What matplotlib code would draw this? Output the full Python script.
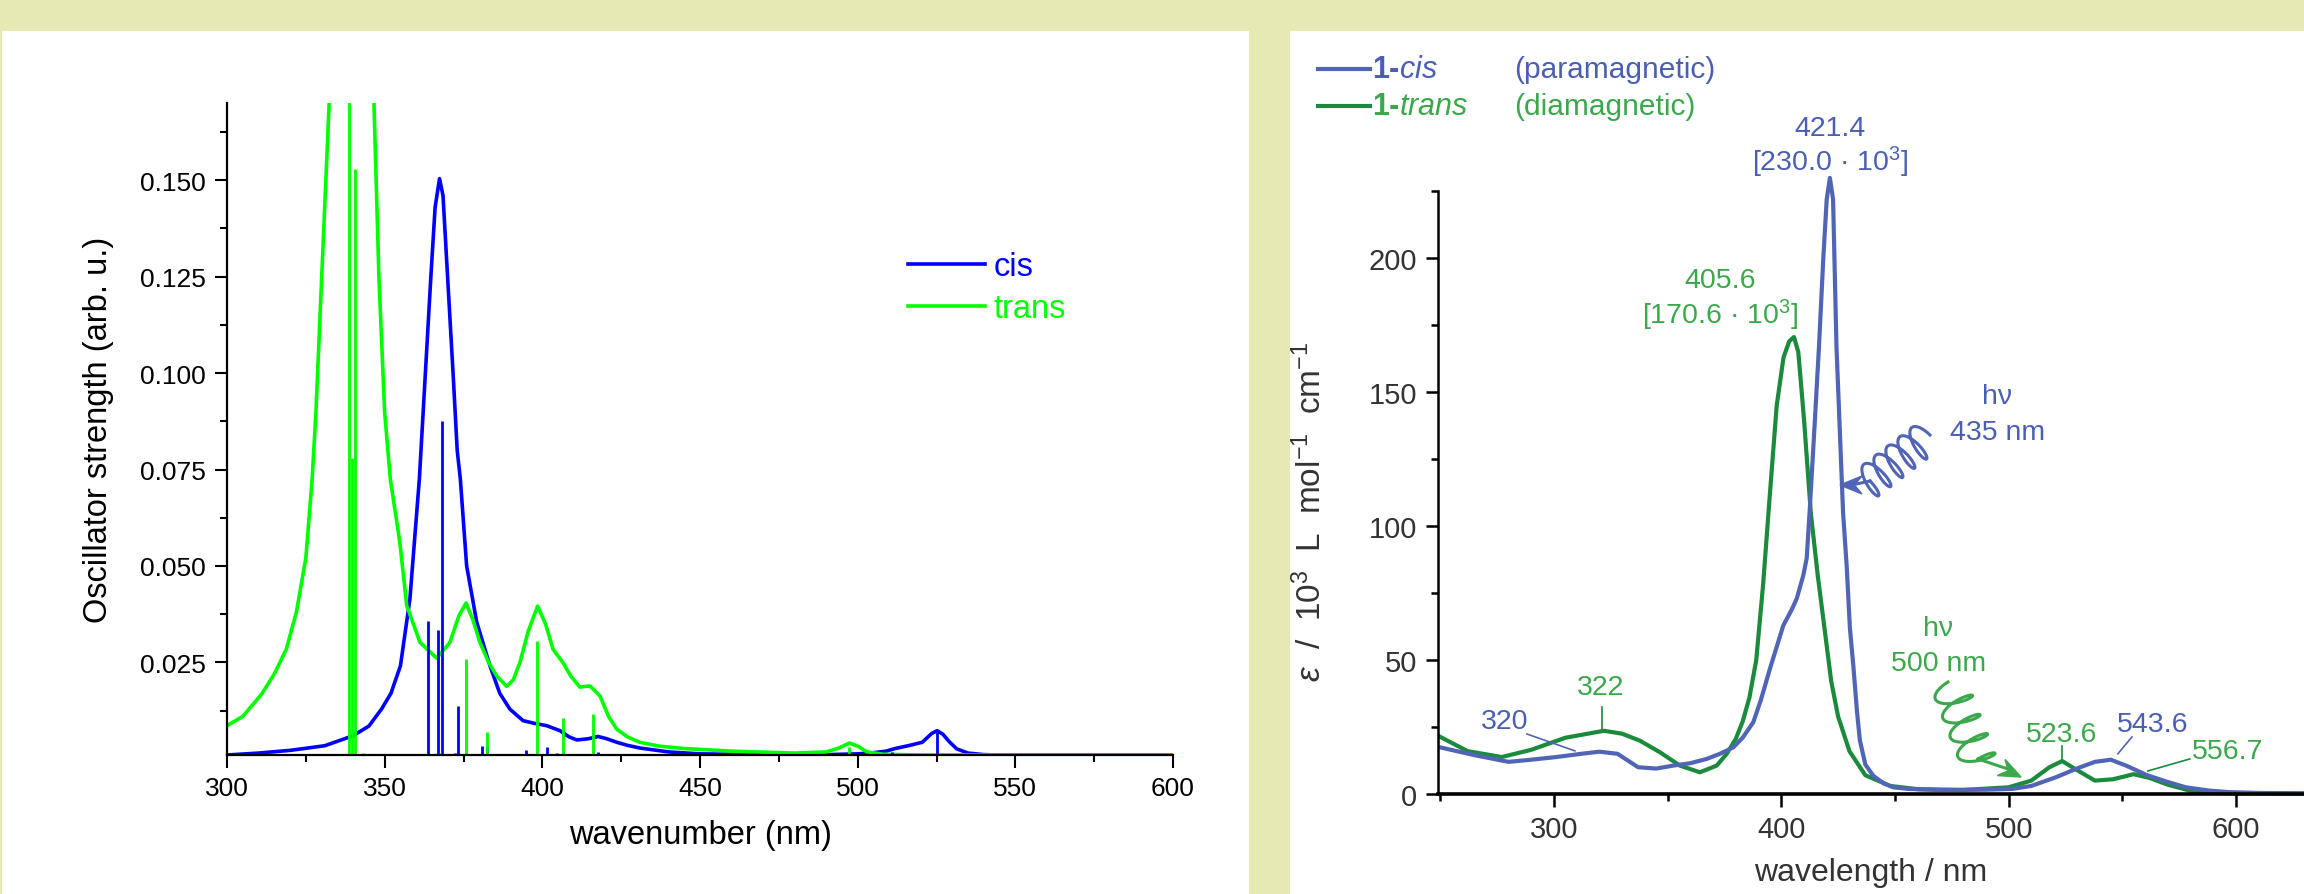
import matplotlib
matplotlib.use('Agg')
import matplotlib.pyplot as plt
import numpy as np
from matplotlib.lines import Line2D
from matplotlib.patches import Rectangle, Polygon
from matplotlib.ticker import MultipleLocator

plt.rcParams['font.family'] = ['Liberation Sans', 'DejaVu Sans']
plt.rcParams['mathtext.fontset'] = 'custom'
plt.rcParams['mathtext.rm'] = 'Liberation Sans'
plt.rcParams['mathtext.it'] = 'Liberation Sans:italic'
plt.rcParams['mathtext.bf'] = 'Liberation Sans:bold'

# ---------------- calculated spectrum (left) ----------------
calc_nm_cis = [300, 310, 320, 331, 340, 345, 349, 352, 355, 358, 361, 362.8, 364.6, 366, 367.4,
               368.5, 370, 371.8, 373, 374, 376, 379.2, 383.4, 386.5, 389.7, 393.9, 397.5, 401.4,
               405.6, 408.5, 410.9, 414.5, 417.7, 420.5, 423.6, 427, 431, 440, 450, 470, 490, 500,
               505, 509, 512, 516, 520.5, 523.5, 525.2, 527, 529, 531.4, 535, 540, 545, 600]
calc_cis = [0.0010, 0.0015, 0.0022, 0.0034, 0.0060, 0.0085, 0.0129, 0.0170, 0.0241, 0.0414, 0.0725,
            0.0984, 0.1243, 0.1430, 0.1504, 0.1460, 0.1243, 0.0984, 0.0800, 0.0725, 0.0500, 0.0354,
            0.0241, 0.0170, 0.0129, 0.0099, 0.0092, 0.0086, 0.0073, 0.0057, 0.0049, 0.0052, 0.0058,
            0.0052, 0.0043, 0.0035, 0.0028, 0.0018, 0.0013, 0.0011, 0.0011, 0.0013, 0.0016, 0.0020,
            0.0027, 0.0034, 0.0043, 0.0066, 0.0073, 0.0064, 0.0045, 0.0026, 0.0015, 0.0011, 0.0010,
            0.0010]

calc_nm_trans = [300, 305, 311, 315, 318.8, 322, 325, 327, 328.2, 330, 332.4, 334, 336, 340, 344,
                 346.6, 348.2, 350, 351.8, 354.8, 357, 361.2, 366.5, 370.7, 373.5, 375.8, 378, 380.2,
                 383, 385.5, 388.7, 390.8, 392.9, 395.5, 398.5, 401, 403.4, 406.5, 409, 411.9, 415.1,
                 418.3, 421, 423.6, 427, 430.9, 437, 444.6, 460, 480, 490, 494, 497.4, 500, 503, 508,
                 520, 600]
calc_trans = [0.0086, 0.0110, 0.0168, 0.0220, 0.0284, 0.0380, 0.0520, 0.0725, 0.0898, 0.1243, 0.1700,
              0.2100, 0.2600, 0.3000, 0.2600, 0.1700, 0.1243, 0.0898, 0.0725, 0.0562, 0.0397, 0.0302,
              0.0261, 0.0302, 0.0370, 0.0404, 0.0360, 0.0302, 0.0250, 0.0215, 0.0188, 0.0205, 0.0250,
              0.0330, 0.0396, 0.0350, 0.0284, 0.0250, 0.0215, 0.0186, 0.0189, 0.0163, 0.0110, 0.0077,
              0.0057, 0.0043, 0.0033, 0.0027, 0.0020, 0.0015, 0.0018, 0.0028, 0.0041, 0.0033, 0.0018,
              0.0012, 0.0010, 0.0010]

stick_nm_cis = [363.8, 366.8, 368.1, 372.3, 373.1, 381.0, 382.5, 394.8, 401.5, 404.8, 417.5, 427.7,
                511.0, 525.2]
stick_f_cis = [0.0358, 0.0334, 0.0876, 0.0015, 0.0136, 0.0034, 0.0034, 0.0022, 0.0030, 0.0014,
               0.0018, 0.0008, 0.0019, 0.0073]
stick_nm_trans = [338.8, 339.6, 340.5, 343.0, 367.4, 375.7, 382.3, 398.3, 406.6, 416.0, 497.4]
stick_f_trans = [0.300, 0.078, 0.153, 0.0015, 0.0015, 0.026, 0.007, 0.0306, 0.0105, 0.0116, 0.003]

# ---------------- experimental spectrum (right) ----------------
exp_nm_cis = [250, 265, 280, 290, 301, 312, 320, 328, 337, 345, 352.5, 360, 367.2, 373, 378.9, 383,
              387.7, 391, 395, 400.9, 404.7, 406.8, 409.7, 411.2, 412.6, 414.5, 416.6, 418.5, 420,
              421.4, 422.8, 424.3, 425.8, 427.2, 428.8, 430.2, 431.7, 433.3, 434.6, 437, 440.5, 445,
              449.3, 456, 470, 490, 501.6, 510, 521, 530, 538, 545, 552, 561, 570, 578, 588, 597, 610,
              630]
exp_cis = [17.4, 14.5, 12.0, 12.8, 13.8, 15.0, 15.8, 15.0, 10.0, 9.5, 10.6, 11.5, 13.1, 15.0, 17.4,
           21.0, 26.8, 35.0, 46.7, 62.9, 69.0, 72.9, 81.6, 88.0, 107, 135, 167, 200, 222, 230, 222,
           167, 135, 105, 85, 62, 48, 31, 20, 11, 6.8, 4.0, 2.5, 1.9, 1.5, 1.6, 1.9, 3.0, 6.3, 9.5,
           12.0, 12.8, 10.5, 7.0, 4.5, 2.5, 1.3, 0.7, 0.4, 0.3]

exp_nm_trans = [250, 262, 277, 290, 305, 322, 330, 337.8, 346.6, 355.4, 364.2, 371.6, 376, 380, 383,
                386, 389, 392, 395, 398, 401, 403.5, 405.6, 407.5, 410, 413, 416, 419, 422, 425, 430,
                437, 448, 460, 480, 500, 510, 518, 523.6, 530, 538, 546, 555, 562, 570, 580, 590, 610,
                630]
exp_trans = [21.3, 16.0, 13.8, 16.5, 21.0, 23.6, 22.5, 19.9, 15.6, 10.6, 8.1, 10.6, 15.0, 20.6, 27.0,
             36.0, 50.0, 78.0, 112, 145, 163, 169, 170.6, 165, 140, 105, 82, 62, 42, 29, 16, 7.0, 3.0,
             1.8, 1.5, 2.5, 5.0, 10.0, 12.3, 9.0, 5.0, 5.5, 7.4, 6.0, 3.5, 1.2, 0.4, 0.2, 0.1]

W, H = 2304, 895
fig = plt.figure(figsize=(W / 100, H / 100), dpi=100, facecolor='#e6e9b4')


def fx(x):
    return np.asarray(x) / W


def fy(y):
    return 1 - np.asarray(y) / H


# white panels, kept behind the axes
fig.patches.append(Rectangle((fx(2), 0), fx(1249) - fx(2), fy(32), transform=fig.transFigure,
                             facecolor='white', edgecolor='none', zorder=-10))
fig.patches.append(Rectangle((fx(1290), 0), 1 - fx(1290), fy(32), transform=fig.transFigure,
                             facecolor='white', edgecolor='none', zorder=-10))

# ================= left panel =================
blue, lime = '#0000ff', '#00ff00'
ax1 = fig.add_axes([fx(227), fy(756), fx(1173) - fx(227), fy(104) - fy(756)])
ax1.set_facecolor('none')
ax1.plot(calc_nm_cis, calc_cis, color=blue, lw=2.6, label='cis')
ax1.plot(calc_nm_trans, calc_trans, color=lime, lw=2.6, label='trans')
ax1.vlines(stick_nm_cis, 0, stick_f_cis, color=blue, lw=2.0)
ax1.vlines(stick_nm_trans, 0, stick_f_trans, color=lime, lw=2.0)
ax1.set_xlim(300, 600)
ax1.set_ylim(0.001, 0.17)
ax1.set_xticks(range(300, 601, 50))
ax1.xaxis.set_minor_locator(MultipleLocator(25))
ax1.set_yticks([0.025, 0.050, 0.075, 0.100, 0.125, 0.150])
ax1.set_yticklabels(['0.025', '0.050', '0.075', '0.100', '0.125', '0.150'])
ax1.yaxis.set_minor_locator(MultipleLocator(0.0125))
for s in ['top', 'right']:
    ax1.spines[s].set_visible(False)
for s in ['left', 'bottom']:
    ax1.spines[s].set_linewidth(1.6)
ax1.tick_params(which='major', direction='out', length=9, width=1.5, labelsize=19, pad=6)
ax1.tick_params(which='minor', direction='out', length=5, width=1.5)
ax1.set_xlabel('wavenumber (nm)', fontsize=23.5, labelpad=14)
ax1.set_ylabel('Oscillator strength (arb. u.)', fontsize=23.5, labelpad=19)
ax1.legend(loc='upper left', bbox_to_anchor=(fx(908), fy(252)), bbox_transform=fig.transFigure,
           frameon=False, fontsize=23.5, handlelength=2.36, handletextpad=0.25,
           labelspacing=0.35, borderpad=0, borderaxespad=0, labelcolor='linecolor')

# ================= right panel =================
bl_line, bl_text = '#5165b7', '#4a5fb3'
gr_line, gr_text = '#1b8a3c', '#3aa84b'
dark = '#333333'

ax2 = fig.add_axes([fx(1437.6), fy(795), 1 - fx(1437.6), fy(192.3) - fy(795)])
ax2.set_facecolor('none')
ax2.plot(exp_nm_trans, exp_trans, color=gr_line, lw=3, clip_on=False)
ax2.plot(exp_nm_cis, exp_cis, color=bl_line, lw=3, clip_on=False)
ax2.set_xlim(248.8, 630)
ax2.set_ylim(0, 225)
ax2.set_xticks([300, 400, 500, 600])
ax2.xaxis.set_minor_locator(MultipleLocator(50))
ax2.set_yticks([0, 50, 100, 150, 200])
ax2.yaxis.set_minor_locator(MultipleLocator(25))
for s in ['top', 'right']:
    ax2.spines[s].set_visible(False)
ax2.spines['left'].set_linewidth(1.8)
ax2.spines['bottom'].set_linewidth(2.6)
ax2.tick_params(which='major', direction='out', length=9, width=1.8, labelsize=21,
                labelcolor=dark, pad=6)
ax2.tick_params(which='minor', direction='out', length=5, width=1.8)
ax2.set_xlabel('wavelength / nm', fontsize=23, color=dark, labelpad=10)
ax2.set_ylabel(r'$\mathit{ε}$  /  10$^3$  L  mol$^{-1}$  cm$^{-1}$', fontsize=24, color=dark)
ax2.yaxis.set_label_coords(-(1437.6 - 1328) / (W - 1437.6), 0.47)

# legend of the published figure
for yy, col, tcol, name, note in [(70, bl_line, bl_text, '1-$\\mathit{cis}$', '(paramagnetic)'),
                                  (107, gr_line, gr_text, '1-$\\mathit{trans}$', '(diamagnetic)')]:
    fig.add_artist(Line2D([fx(1318), fx(1370)], [fy(yy), fy(yy)], color=col, lw=3,
                          transform=fig.transFigure))
    fig.text(fx(1372), fy(yy), name, color=tcol, fontsize=22, fontweight='bold', va='center')
    fig.text(fx(1514), fy(yy), note, color=tcol, fontsize=21.5, va='center')

# peak labels
ax2.text(421.4, 248.5, '421.4', color=bl_text, fontsize=20.5, ha='center', va='center')
ax2.text(421.4, 236, r'[230.0 · 10$^3$]', color=bl_text, fontsize=20.5, ha='center', va='center')
ax2.text(373, 192, '405.6', color=gr_text, fontsize=20.5, ha='center', va='center')
ax2.text(373, 179, r'[170.6 · 10$^3$]', color=gr_text, fontsize=20.5, ha='center', va='center')
ax2.text(495, 148.5, 'hν', color=bl_text, fontsize=20.5, ha='center', va='center')
ax2.text(495, 135, '435 nm', color=bl_text, fontsize=20.5, ha='center', va='center')
ax2.text(469, 62, 'hν', color=gr_text, fontsize=20.5, ha='center', va='center')
ax2.text(469, 49, '500 nm', color=gr_text, fontsize=20.5, ha='center', va='center')

ax2.text(278.4, 27.3, '320', color=bl_text, fontsize=20.5, ha='center', va='center')
ax2.plot([288.1, 309.2], [22.4, 16.1], color=bl_line, lw=1.2)
ax2.text(320.7, 40, '322', color=gr_text, fontsize=20.5, ha='center', va='center')
ax2.plot([321.1, 321.1], [32.5, 24.3], color=gr_line, lw=1.2)
ax2.text(523.5, 22.4, '523.6', color=gr_text, fontsize=20.5, ha='center', va='center')
ax2.plot([523.5, 523.5], [17.9, 12.3], color=gr_line, lw=1.2)
ax2.text(563.5, 26.2, '543.6', color=bl_text, fontsize=20.5, ha='center', va='center')
ax2.plot([554.3, 548.1], [21.3, 15.0], color=bl_line, lw=1.2)
ax2.text(596.5, 16.1, '556.7', color=gr_text, fontsize=20.5, ha='center', va='center')
ax2.plot([579.8, 561.3], [13.1, 8.6], color=gr_line, lw=1.2)


# photon squiggles (pixel geometry)
def squiggle(p0, p1, n, amp, wob):
    p0, p1 = np.array(p0, float), np.array(p1, float)
    d = p1 - p0
    L = np.hypot(*d)
    e = d / L
    nrm = np.array([-e[1], e[0]])
    t = np.linspace(0, 2 * np.pi * n, 800)
    a = L / (2 * np.pi * n)
    u = a * t + wob * np.sin(t)
    v = amp * np.sin(t)
    u = a * t - wob * np.cos(t) + wob
    pts = p0[None, :] + u[:, None] * e[None, :] + v[:, None] * nrm[None, :]
    return pts


def arrowhead(base, tip, length, hw, col):
    base, tip = np.array(base, float), np.array(tip, float)
    e = (tip - base) / np.hypot(*(tip - base))
    nrm = np.array([-e[1], e[0]])
    pts = [tip, tip - e * length + nrm * hw, tip - e * length * 0.65, tip - e * length - nrm * hw]
    pts = [(fx(p[0]), fy(p[1])) for p in pts]
    fig.patches.append(Polygon(pts, closed=True, transform=fig.transFigure, facecolor=col,
                               edgecolor=col, lw=1, zorder=5))


pts = squiggle((1930, 436), (1870, 482), 5, 17, 6)
tail = np.array([pts[-1], (1852, 486)])
fig.add_artist(Line2D(fx(pts[:, 0]), fy(pts[:, 1]), color=bl_line, lw=2.2, transform=fig.transFigure))
fig.add_artist(Line2D(fx(tail[:, 0]), fy(tail[:, 1]), color=bl_line, lw=2.2, transform=fig.transFigure))
arrowhead((1866, 486), (1840, 486), 22, 9, bl_line)

pts = squiggle((1948, 683), (1978, 760), 4, 18, 6)
tail = np.array([pts[-1], (2008, 770)])
fig.add_artist(Line2D(fx(pts[:, 0]), fy(pts[:, 1]), color=gr_text, lw=2.2, transform=fig.transFigure))
fig.add_artist(Line2D(fx(tail[:, 0]), fy(tail[:, 1]), color=gr_text, lw=2.2, transform=fig.transFigure))
arrowhead((1996, 766), (2021, 778), 22, 9, gr_text)

fig.savefig('out.png', dpi=100, facecolor=fig.get_facecolor())
